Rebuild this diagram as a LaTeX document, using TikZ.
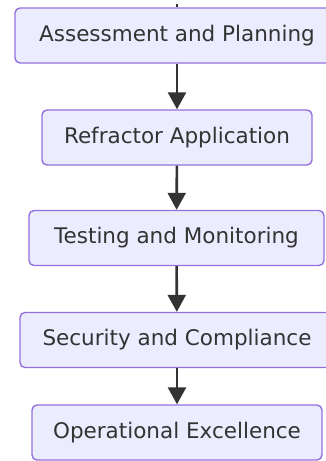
\documentclass[tikz,border=0pt]{standalone}
\usepackage{fontspec}
\setmainfont{DejaVu Sans}
\usetikzlibrary{arrows.meta}
\definecolor{boxfill}{HTML}{ECECFF}
\definecolor{boxline}{HTML}{9370DB}
\definecolor{ink}{HTML}{333333}
\begin{document}
\begin{tikzpicture}[x=1pt,y=-1pt,
  stepbox/.style={draw=boxline,fill=boxfill,line width=1.4pt,rounded corners=5pt,
    inner sep=0pt,minimum height=55pt,text=ink,font=\fontsize{21.5}{24}\selectfont,
    text height=15.5pt,text depth=4.5pt},
  flow/.style={draw=ink,line width=2.6pt,-{Triangle[length=17pt,width=18pt]}}]
\useasboundingbox (0,0) rectangle (326,461);
\node[stepbox,minimum width=324pt] (a) at (177,35.5) {Assessment and Planning};
\node[stepbox,minimum width=270pt] (b) at (177,137.5) {Refractor Application};
\node[stepbox,minimum width=295pt] (c) at (176.5,238) {Testing and Monitoring};
\node[stepbox,minimum width=314pt] (d) at (177,340) {Security and Compliance};
\node[stepbox,minimum width=290pt] (e) at (177,432.5) {Operational Excellence};
\coordinate (top) at (177,4);
\draw[draw=ink,line width=1.5pt] (top) -- (a.north);
\draw[flow] (a) -- (b);
\draw[flow] (b) -- (c);
\draw[flow] (c) -- (d);
\draw[flow] (d) -- (e);
\end{tikzpicture}
\end{document}
